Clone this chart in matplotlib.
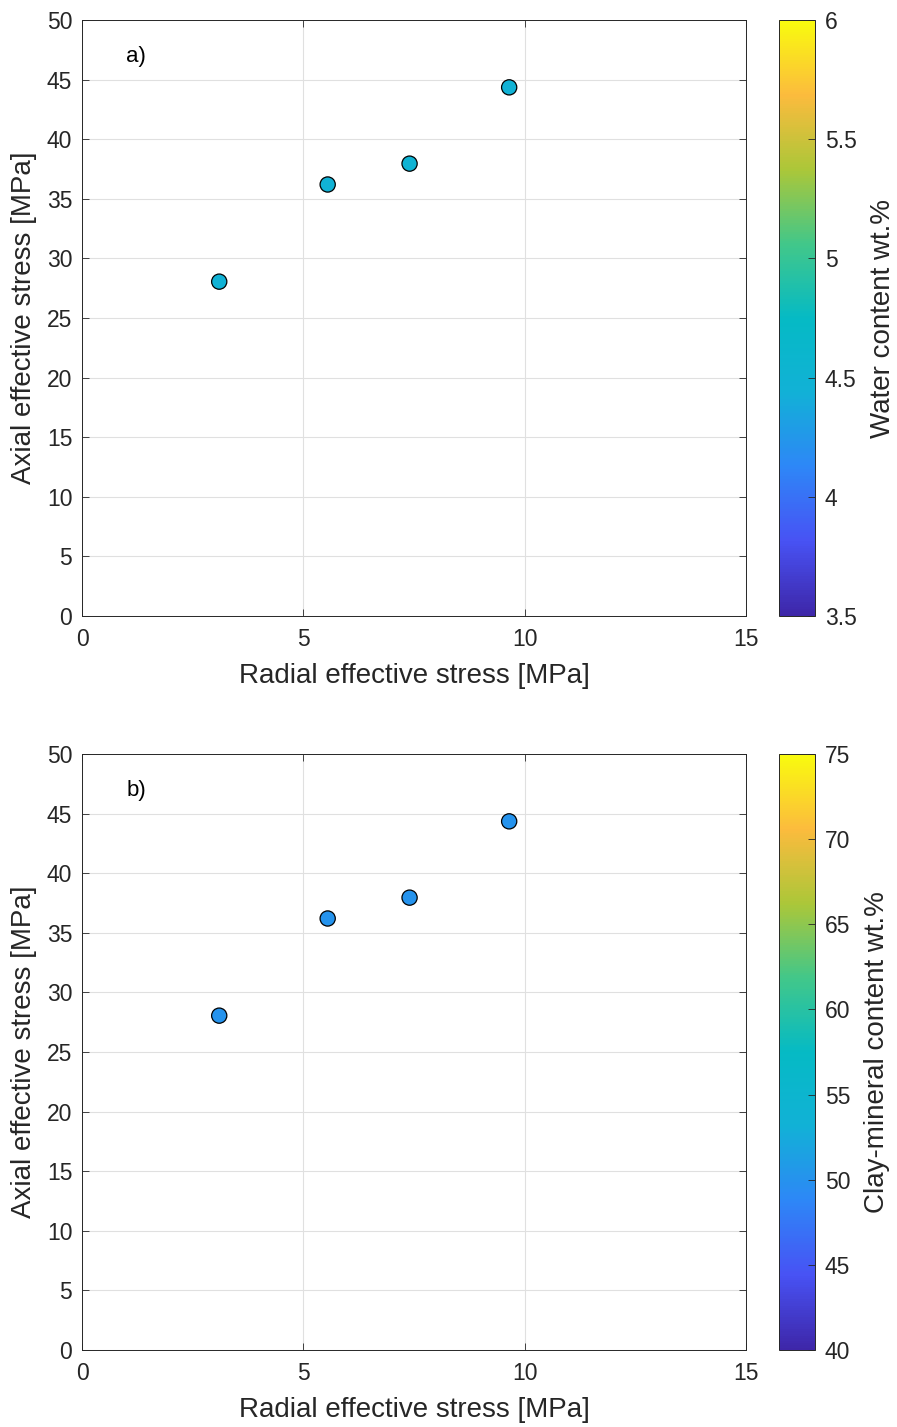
import numpy as np
import matplotlib
matplotlib.use('Agg')
import matplotlib.pyplot as plt
from matplotlib.colors import LinearSegmentedColormap, Normalize
from matplotlib.ticker import FormatStrFormatter
import matplotlib.cm as cm

plt.rcParams['font.family'] = ['Liberation Sans', 'DejaVu Sans']

# data
radial = [3.1, 5.55, 7.4, 9.65]
axial = [28.05, 36.2, 37.95, 44.35]
water = [4.45, 4.45, 4.5, 4.45]
clay = [50.0, 50.0, 50.0, 50.0]

panel_labels = ['a)', 'b)']
cbar_labels = ['Water content wt.%', 'Clay-mineral content wt.%']
cbar_ranges = [(3.5, 6), (40, 75)]
cbar_ticks = [[3.5, 4, 4.5, 5, 5.5, 6], [40, 45, 50, 55, 60, 65, 70, 75]]
colour_values = [water, clay]

# rough parula
parula = LinearSegmentedColormap.from_list('parula', [
    (0.2422, 0.1504, 0.6603),
    (0.2810, 0.3228, 0.9579),
    (0.1786, 0.5289, 0.9682),
    (0.0689, 0.6948, 0.8394),
    (0.0200, 0.7300, 0.7700),
    (0.2586, 0.7816, 0.5376),
    (0.6720, 0.7793, 0.2227),
    (0.9871, 0.7337, 0.2406),
    (0.9763, 0.9831, 0.0538)])

W, H = 897, 1427
fig = plt.figure(figsize=(W / 100, H / 100), dpi=100)

tops = [20, 754]
edge = (0.15, 0.15, 0.15)
txt = (0.15, 0.15, 0.15)
for k in range(2):
    top = tops[k]
    ax = fig.add_axes([82 / W, (H - top - 596) / H, 664 / W, 596 / H])
    cax = fig.add_axes([779 / W, (H - top - 596) / H, 36 / W, 596 / H])
    vmin, vmax = cbar_ranges[k]
    norm = Normalize(vmin, vmax)
    ax.scatter(radial, axial, c=colour_values[k], cmap=parula, norm=norm,
               s=120, edgecolors='black', linewidths=0.9, zorder=3)
    ax.set_xlim(0, 15)
    ax.set_ylim(0, 50)
    ax.set_xticks([0, 5, 10, 15])
    ax.set_yticks(np.arange(0, 51, 5))
    ax.grid(True, color=(0.88, 0.88, 0.88), linewidth=0.8)
    ax.set_axisbelow(True)
    ax.tick_params(direction='in', length=5, width=0.6, colors=edge,
                   labelsize=16.5, top=True, right=True)
    ax.tick_params(axis='x', pad=9)
    ax.tick_params(axis='y', pad=7)
    for t in ax.get_xticklabels() + ax.get_yticklabels():
        t.set_color(txt)
    for s in ax.spines.values():
        s.set_color(edge)
        s.set_linewidth(0.7)
    ax.set_xlabel('Radial effective stress [MPa]', fontsize=20, color=txt, labelpad=8)
    ax.set_ylabel('Axial effective stress [MPa]', fontsize=20, color=txt, labelpad=7)
    ax.text(1.0, 46.9, panel_labels[k], fontsize=16, ha='left', va='center')

    cb = fig.colorbar(cm.ScalarMappable(norm=norm, cmap=parula), cax=cax)
    cb.set_ticks(cbar_ticks[k])
    cb.ax.yaxis.set_major_formatter(FormatStrFormatter('%g'))
    cb.ax.tick_params(direction='in', length=5, width=0.6, labelsize=16.5,
                      colors=edge, pad=7)
    for t in cb.ax.get_yticklabels():
        t.set_color(txt)
    cb.outline.set_edgecolor(edge)
    cb.outline.set_linewidth(0.7)
    cb.set_label(cbar_labels[k], fontsize=20, color=txt, labelpad=10)

fig.savefig('out.png', dpi=100)
